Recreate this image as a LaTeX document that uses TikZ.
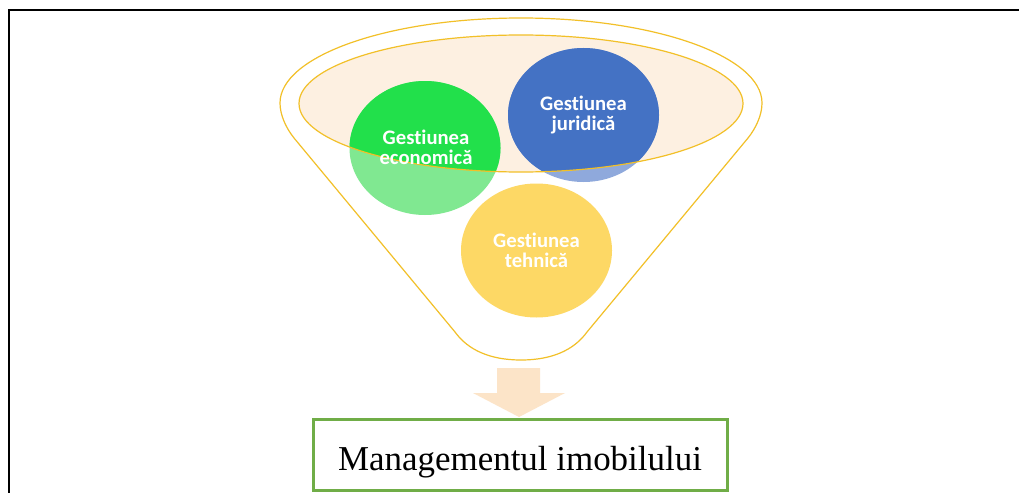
\documentclass[tikz,border=0pt]{standalone}
\usepackage{fontspec}
\setmainfont{Liberation Serif}
\newfontfamily\calfont[Ligatures=NoCommon]{Carlito}
\usetikzlibrary{shapes.geometric}
\definecolor{gold}{RGB}{242,192,40}
\definecolor{peach}{RGB}{253,240,225}
\definecolor{gbright}{RGB}{34,224,75}
\definecolor{glight}{RGB}{128,232,145}
\definecolor{bblue}{RGB}{68,114,196}
\definecolor{blight}{RGB}{143,169,220}
\definecolor{yel}{RGB}{253,216,101}
\definecolor{arrowc}{RGB}{252,228,200}
\definecolor{boxg}{RGB}{112,173,71}
\begin{document}
\begin{tikzpicture}[x=0.75pt,y=-0.75pt,
  circtext/.style={text=white, font=\calfont\bfseries\fontsize{15.5}{15}\selectfont, align=center},
  goldline/.style={draw=gold, line width=0.9pt},
  disc/.style={x radius=75.5, y radius=67},
  mainbox/.style={draw=boxg, line width=2.25pt, fill=white, minimum width=310.5pt, minimum height=53.5pt, inner sep=0pt, text height=22.5pt, text depth=0pt, font=\fontsize{26.2}{28}\selectfont}]
\useasboundingbox (0,0) rectangle (1019,492);
\fill[white] (0,0) rectangle (1019,492);
\draw[line width=2pt] (1025,10) -- (9,10) -- (9,500);
% funnel
\draw[goldline, fill=white] (280,103) arc[start angle=180,end angle=360,x radius=241,y radius=85]
  .. controls (762,115) and (756,128) .. (748,138) -- (587,332)
  .. controls (574,350) and (552,360) .. (521,360)
  .. controls (490,360) and (468,350) .. (455,332) -- (294,138)
  .. controls (286,128) and (280,115) .. (280,103) -- cycle;
\fill[peach] (521,103.5) ellipse[x radius=222, y radius=68.5];
% circles
\fill[glight] (425,148) ellipse[disc];
\fill[blight] (583.5,115) ellipse[disc];
\begin{scope}
  \clip (521,103.5) ellipse[x radius=222, y radius=68.5];
  \fill[gbright] (425,148) ellipse[disc];
  \fill[bblue] (583.5,115) ellipse[disc];
\end{scope}
\fill[yel] (536.5,250.5) ellipse[disc];
\draw[goldline] (521,103.5) ellipse[x radius=222, y radius=68.5];
\node[circtext] (eco) at (426,147) {Gestiunea\\economică};
\node[circtext] (jur) at (583.5,114.5) {Gestiunea\\juridică};
\node[circtext] (teh) at (536.5,250) {Gestiunea\\tehnică};
% arrow and box
\node[mainbox] (mgmt) at (520,455) {Managementul imobilului};
\fill[arrowc] (497,368) -- (540,368) -- (540,393) -- (565,393) -- (519,417) -- (473,393) -- (497,393) -- cycle;
\end{tikzpicture}
\end{document}
